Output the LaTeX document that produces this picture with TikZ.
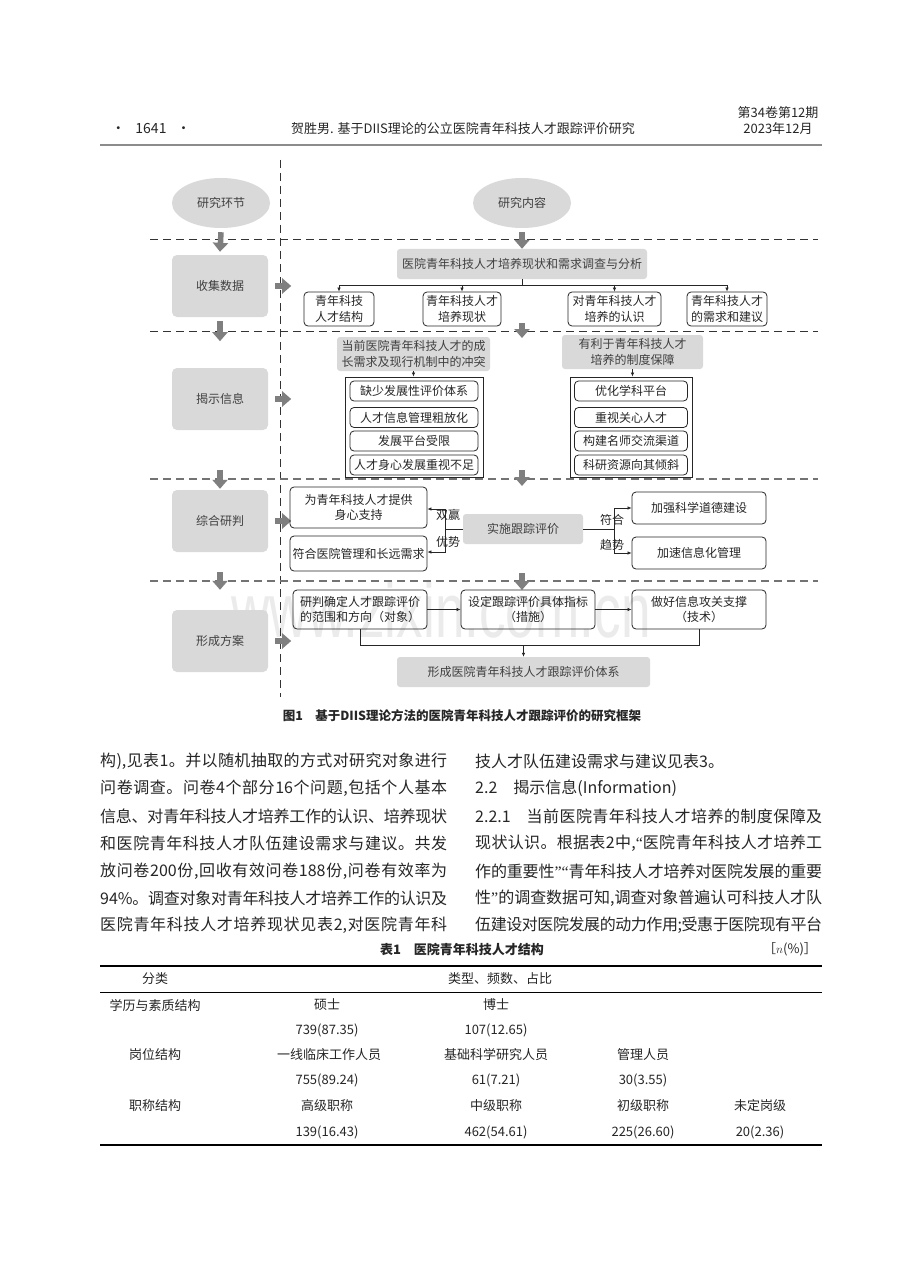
\documentclass[tikz,border=0pt]{standalone}
\usepackage{graphicx}
\usepackage{fontspec}
\setmainfont{Noto Sans CJK SC}
\newfontfamily\wmfont{Liberation Sans}
\newfontfamily\quotefont{Liberation Serif}
\usetikzlibrary{shapes.geometric,arrows.meta,positioning}
\definecolor{boxgray}{HTML}{D9D9D9}
\definecolor{arrgray}{HTML}{7F7F7F}
\definecolor{txtgray}{HTML}{404040}
% stretchable glue between CJK characters, used only in body lines
\newcount\cjkcode
\cjkcode="4E00
\loop \XeTeXcharclass\cjkcode=1 \advance\cjkcode by 1 \ifnum\cjkcode<"A000 \repeat
\cjkcode="3000
\loop \XeTeXcharclass\cjkcode=1 \advance\cjkcode by 1 \ifnum\cjkcode<"3040 \repeat
\cjkcode="FF00
\loop \XeTeXcharclass\cjkcode=1 \advance\cjkcode by 1 \ifnum\cjkcode<"FFF0 \repeat
\newcommand\jglue{\hskip 0pt plus 3pt minus 1.5pt}
\XeTeXinterchartoks 1 1 = {\jglue}
\XeTeXinterchartoks 0 1 = {\jglue}
\XeTeXinterchartoks 1 0 = {\jglue}
\newcommand\jline[1]{\hbox to 347pt{\XeTeXinterchartokenstate=1 #1}}
\newcommand\openq{{\quotefont “}}
\newcommand\closeq{{\quotefont ”}}
\begin{document}
\begin{tikzpicture}[x=1pt,y=-1pt,
  every node/.style={inner sep=0pt, text=black!85},
  dfont/.style={font=\fontsize{12}{15.5}\selectfont},
  phase/.style={dfont, fill=boxgray, rounded corners=5pt, minimum width=96pt, minimum height=62pt, text=txtgray},
  oval/.style={dfont, ellipse, fill=boxgray, minimum width=98pt, minimum height=50pt, text=txtgray},
  graybox/.style={dfont, fill=boxgray, rounded corners=3pt, align=center, text=txtgray},
  wbox/.style={dfont, draw=black!85, line width=0.8pt, rounded corners=4pt, align=center},
  boxframe/.style={draw=black!85, line width=0.8pt},
  fat/.style={draw=arrgray, line width=5.5pt, -{Triangle[width=15pt,length=9pt]}},
  link/.style={draw=black!85, line width=0.7pt},
  linkto/.style={link, -{Latex[length=4pt,width=3.5pt]}},
  sepdark/.style={draw=black!80, line width=1pt, dash pattern=on 8pt off 5pt},
  seplight/.style={draw=black!55, line width=1.2pt, dash pattern=on 8pt off 5pt},
  body/.style={font=\fontsize{16}{20}\selectfont, anchor=west},
  tab/.style={font=\fontsize{13}{15}\selectfont},
]
\fill[white] (0,0) rectangle (920,1265);
\useasboundingbox (0,0) rectangle (920,1265);

% running head
\node[font=\fontsize{14}{16}\selectfont] (pageno) at (151,129) {·\hspace{10pt}1641\hspace{10pt}·};
\node[font=\fontsize{13}{16}\selectfont] (runtitle) at (463,129) {贺胜男. 基于DIIS理论的公立医院青年科技人才跟踪评价研究};
\node[font=\fontsize{13}{16}\selectfont] (volume) at (778,113) {第34卷第12期};
\node[font=\fontsize{13}{16}\selectfont] (issue) at (778,129) {2023年12月};
\draw[draw=black!45, line width=1.8pt] (100,145) -- (822,145);

% watermark
\node[anchor=base, text=black!8] (wm) at (441,637) {\wmfont\fontsize{77}{77}\selectfont\scalebox{0.69}[1]{www.zixin.com.cn}};

% separators
\draw[sepdark] (280,160) -- (280,697);
\draw[sepdark] (150,240) -- (818,240);
\draw[sepdark] (150,331) -- (818,331);
\draw[seplight] (150,479) -- (818,479);
\draw[seplight] (150,581) -- (818,581);

% left column
\node[oval] (stage) at (221,203) {研究环节};
\node[oval] (content) at (522,203) {研究内容};
\node[phase] (collect) at (220,286) {收集数据};
\node[phase] (reveal) at (220,399) {揭示信息};
\node[phase] (judge) at (220,521) {综合研判};
\node[phase] (plan) at (220,641) {形成方案};

\draw[fat] ([yshift=-4pt]stage.south) -- ([yshift=3pt]collect.north);
\draw[fat] ([yshift=-4pt]collect.south) -- ++(0,20);
\draw[fat] ([yshift=20pt]judge.north) -- ([yshift=1pt]judge.north);
\draw[fat] ([yshift=38pt]plan.north) -- ([yshift=20pt]plan.north);
\foreach \n in {collect,reveal,judge,plan}
  \draw[fat] ([xshift=7pt]\n.east) -- ([xshift=23pt]\n.east);

% collect data
\node[graybox, minimum width=250pt, minimum height=30pt] (survey) at (522,264) {医院青年科技人才培养现状和需求调查与分析};
\node[wbox, minimum width=70pt, minimum height=34pt] (structure) at (339,309) {青年科技\\人才结构};
\node[wbox, minimum width=78pt, minimum height=34pt] (status) at (462,309) {青年科技人才\\培养现状};
\node[wbox, minimum width=93pt, minimum height=34pt] (cognition) at (614.5,309) {对青年科技人才\\培养的认识};
\node[wbox, minimum width=80pt, minimum height=34pt] (demand) at (727,309) {青年科技人才\\的需求和建议};
\draw[fat] ([yshift=-4pt]content.south) -- (survey.north);
\draw[link] (survey.south) -- ++(0,6) coordinate (hub);
\draw[link] (hub -| structure) -- (hub -| demand);
\foreach \n in {structure,status,cognition,demand}
  \draw[linkto] (hub -| \n) -- (\n.north);

% reveal information
\draw[fat] (522,323) -- (522,338);
\node[graybox, minimum width=153pt, minimum height=34pt] (conflict) at (413.5,354) {当前医院青年科技人才的成\\长需求及现行机制中的冲突};
\node[graybox, minimum width=141pt, minimum height=34pt] (support) at (632.5,352) {有利于青年科技人才\\培养的制度保障};
\node[boxframe, minimum width=138pt, minimum height=100pt] (lackbox) at (414,427) {};
\node[boxframe, minimum width=122pt, minimum height=100pt] (holdbox) at (631,427) {};
\foreach \y/\t [count=\i] in {391/缺少发展性评价体系, 417.5/人才信息管理粗放化, 441/发展平台受限, 465/人才身心发展重视不足}
  \node[wbox, minimum width=128pt, minimum height=20pt] (lack\i) at (414,\y) {\t};
\foreach \y/\t [count=\i] in {391/优化学科平台, 417.5/重视关心人才, 441/构建名师交流渠道, 465/科研资源向其倾斜}
  \node[wbox, minimum width=113pt, minimum height=20pt] (hold\i) at (631,\y) {\t};
\draw[linkto] (conflict.south) -- (conflict.south |- lackbox.north);
\draw[linkto] (support.south) -- (support.south |- holdbox.north);

% comprehensive judgement
\draw[fat] (522,470) -- (522,486);
\node[wbox, minimum width=137pt, minimum height=41pt] (care) at (358.5,507.5) {为青年科技人才提供\\身心支持};
\node[wbox, minimum width=137pt, minimum height=35pt] (fit) at (358.5,553.5) {符合医院管理和长远需求};
\node[graybox, minimum width=120pt, minimum height=30pt] (track) at (523,529) {实施跟踪评价};
\node[wbox, minimum width=134pt, minimum height=32pt] (ethics) at (699,508) {加强科学道德建设};
\node[wbox, minimum width=134pt, minimum height=32pt] (infoman) at (699,553) {加速信息化管理};
\draw[link] (track.west) -- ++(-17,0) coordinate (jl);
\draw[link] (jl |- 0,509) -- (jl |- 0,552);
\draw[linkto] (jl |- 0,509) -- (care.east |- 0,509);
\draw[linkto] (jl |- 0,552) -- (fit.east |- 0,552);
\draw[link] (track.east) -- ++(31,0) coordinate (jr);
\draw[link] (jr |- ethics.west) -- (jr |- infoman.west);
\draw[linkto] (jr |- ethics.west) -- (ethics.west);
\draw[linkto] (jr |- infoman.west) -- (infoman.west);
\node[dfont] (win) at (448,515) {双赢};
\node[dfont] (adv) at (448,542) {优势};
\node[dfont] (conform) at (612,520) {符合};
\node[dfont] (trend) at (612,545) {趋势};

% form the plan
\draw[fat] (522,573) -- (522,590);
\node[wbox, minimum width=134pt, minimum height=39pt] (scope) at (360,609.5) {研判确定人才跟踪评价\\的范围和方向（对象）};
\node[wbox, minimum width=134pt, minimum height=39pt] (index) at (528,609.5) {设定跟踪评价具体指标\\（措施）};
\node[wbox, minimum width=134pt, minimum height=39pt] (techsup) at (699,609.5) {做好信息攻关支撑\\（技术）};
\node[graybox, minimum width=253pt, minimum height=30pt] (system) at (523.5,672) {形成医院青年科技人才跟踪评价体系};
\draw[linkto] (scope) -- (index);
\draw[linkto] (index) -- (techsup);
\draw[link] (scope.south) -- ++(0,16) coordinate (bus) -| (techsup.south);
\draw[linkto] (bus -| system) -- (system.north);

% caption
\node[font=\bfseries\fontsize{12.5}{15}\selectfont] (caption) at (462,716) {图1\hspace{1em}基于DIIS理论方法的医院青年科技人才跟踪评价的研究框架};

% body text, left column
\node[body] (l1) at (100,761) {\jline{构),见表1。并以随机抽取的方式对研究对象进行}};
\node[body] (l2) at (100,788) {\jline{问卷调查。问卷4个部分16个问题,包括个人基本}};
\node[body] (l3) at (100,816) {\jline{信息、对青年科技人才培养工作的认识、培养现状}};
\node[body] (l4) at (100,843) {\jline{和医院青年科技人才队伍建设需求与建议。共发}};
\node[body] (l5) at (100,871) {\jline{放问卷200份,回收有效问卷188份,问卷有效率为}};
\node[body] (l6) at (100,898) {\jline{94\%。调查对象对青年科技人才培养工作的认识及}};
\node[body] (l7) at (100,925) {\jline{医院青年科技人才培养现状见表2,对医院青年科}};
% body text, right column
\node[body] (r1) at (475,761) {技人才队伍建设需求与建议见表3。};
\node[body] (r2) at (475,788) {2.2\hspace{1em}揭示信息(Information)};
\node[body] (r3) at (475,816) {\jline{2.2.1\hspace{1em}当前医院青年科技人才培养的制度保障及}};
\node[body] (r4) at (475,843) {\jline{现状认识。根据表2中,\openq 医院青年科技人才培养工}};
\node[body] (r5) at (475,871) {\jline{作的重要性\closeq\openq 青年科技人才培养对医院发展的重要}};
\node[body] (r6) at (475,898) {\jline{性\closeq 的调查数据可知,调查对象普遍认可科技人才队}};
\node[body] (r7) at (475,925) {\jline{伍建设对医院发展的动力作用;受惠于医院现有平台}};

% table 1
\node[font=\bfseries\fontsize{13}{15}\selectfont] (tabtitle) at (462,949) {表1\hspace{1em}医院青年科技人才结构};
\node[tab] (unit) at (790,949) {［$n$(\%)］};
\draw[line width=1.3pt] (100,966) -- (822,966);
\draw[line width=0.6pt] (100,992) -- (822,992);
\draw[line width=1.3pt] (100,1145) -- (822,1145);
\node[tab] (hclass) at (155,979) {分类};
\node[tab] (htype) at (500,979) {类型、频数、占比};
\node[tab] (edu) at (155,1005) {学历与素质结构};
\node[tab] (master) at (327,1005) {硕士};
\node[tab] (doctor) at (496,1005) {博士};
\node[tab] (nmaster) at (327,1030) {739(87.35)};
\node[tab] (ndoctor) at (496,1030) {107(12.65)};
\node[tab] (post) at (155,1055) {岗位结构};
\node[tab] (clinic) at (329,1055) {一线临床工作人员};
\node[tab] (basic) at (496,1055) {基础科学研究人员};
\node[tab] (manage) at (643,1055) {管理人员};
\node[tab] (nclinic) at (327,1080) {755(89.24)};
\node[tab] (nbasic) at (496,1080) {61(7.21)};
\node[tab] (nmanage) at (643,1080) {30(3.55)};
\node[tab] (title) at (155,1106) {职称结构};
\node[tab] (senior) at (327,1106) {高级职称};
\node[tab] (middle) at (496,1106) {中级职称};
\node[tab] (junior) at (643,1106) {初级职称};
\node[tab] (unset) at (760,1106) {未定岗级};
\node[tab] (nsenior) at (327,1132) {139(16.43)};
\node[tab] (nmiddle) at (496,1132) {462(54.61)};
\node[tab] (njunior) at (643,1132) {225(26.60)};
\node[tab] (nunset) at (760,1132) {20(2.36)};
\end{tikzpicture}
\end{document}
